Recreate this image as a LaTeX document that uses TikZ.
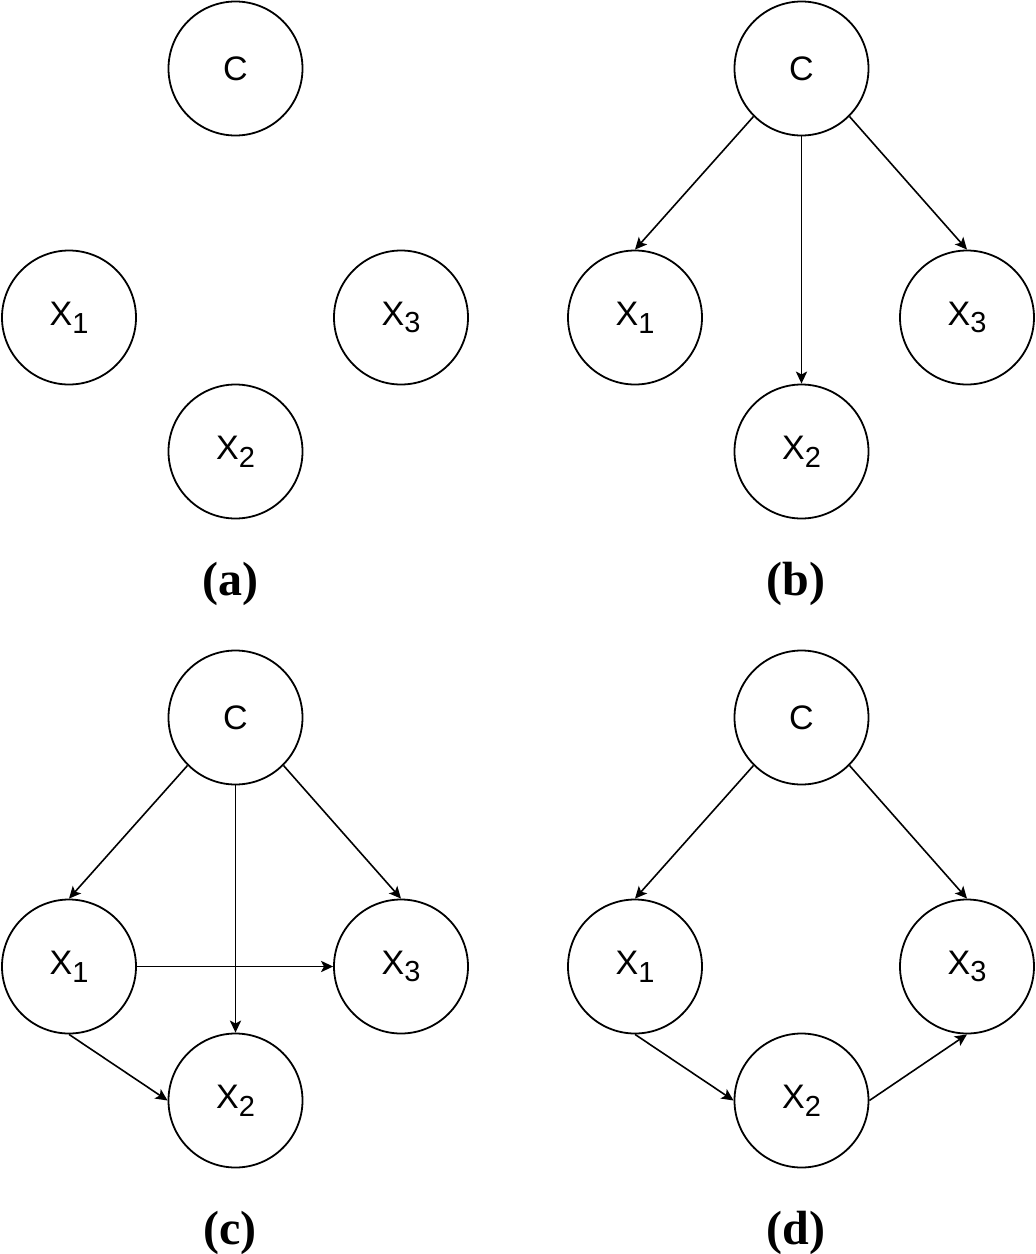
\documentclass[tikz,border=0pt]{standalone}
\usepackage{fontspec}
\usetikzlibrary{arrows.meta}
\newfontfamily\nodefam{Liberation Sans}
\newfontfamily\labfam{Liberation Serif}
\newcommand\xsub[1]{X\raisebox{-3.8pt}{\fontsize{14.5}{14.5}\selectfont #1}}
\begin{document}
\begin{tikzpicture}[x=0.5pt,y=-0.5pt,
  var/.style={circle, draw, line width=0.9pt, minimum size=67pt, inner sep=0pt,
              font=\nodefam\fontsize{17}{17}\selectfont},
  arr/.style={-{Stealth[length=6pt,width=5.6pt,inset=1.4pt]}, line width=0.8pt},
  lab/.style={font=\labfam\bfseries\fontsize{24}{24}\selectfont, anchor=base, inner sep=0pt}]
\useasboundingbox (0,0) rectangle (1036,1254);
% panel (a)
\node[var] (aC)  at (235.5,68.5)  {C};
\node[var] (aX1) at (69,317.5)    {\xsub{1}};
\node[var] (aX3) at (401,317.5)   {\xsub{3}};
\node[var] (aX2) at (235.5,451.5) {\xsub{2}};
\node[lab] (la) at (230,595) {(a)};
% panel (b)
\node[var] (bC)  at (801.5,68.5)  {C};
\node[var] (bX1) at (635,317.5)   {\xsub{1}};
\node[var] (bX3) at (967,317.5)   {\xsub{3}};
\node[var] (bX2) at (801.5,451.5) {\xsub{2}};
\node[lab] (lb) at (796,595) {(b)};
\draw[arr] (bC.south west) -- (bX1.north);
\draw[arr] (bC.south) -- (bX2.north);
\draw[arr] (bC.south east) -- (bX3.north);
% panel (c)
\node[var] (cC)  at (235.5,717.5)  {C};
\node[var] (cX1) at (69,966.5)     {\xsub{1}};
\node[var] (cX3) at (401,966.5)    {\xsub{3}};
\node[var] (cX2) at (235.5,1100.5) {\xsub{2}};
\node[lab] (lc) at (230,1244) {(c)};
\draw[arr] (cC.south west) -- (cX1.north);
\draw[arr] (cC.south) -- (cX2.north);
\draw[arr] (cC.south east) -- (cX3.north);
\draw[arr] (cX1.east) -- (cX3.west);
\draw[arr] (cX1.south) -- (cX2.west);
% panel (d)
\node[var] (dC)  at (801.5,717.5)  {C};
\node[var] (dX1) at (635,966.5)    {\xsub{1}};
\node[var] (dX3) at (967,966.5)    {\xsub{3}};
\node[var] (dX2) at (801.5,1100.5) {\xsub{2}};
\node[lab] (ld) at (796,1244) {(d)};
\draw[arr] (dC.south west) -- (dX1.north);
\draw[arr] (dC.south east) -- (dX3.north);
\draw[arr] (dX1.south) -- (dX2.west);
\draw[arr] (dX2.east) -- (dX3.south);
\end{tikzpicture}
\end{document}
